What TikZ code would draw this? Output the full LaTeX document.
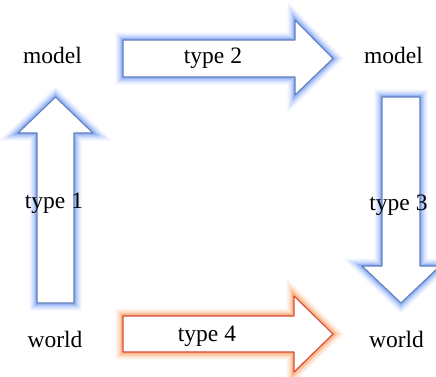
\documentclass[tikz,border=0pt]{standalone}
\usepackage{fontspec}
\setmainfont{Liberation Serif}
\definecolor{glowblue}{RGB}{120,160,245}
\definecolor{edgeblue}{RGB}{95,125,185}
\definecolor{gloworange}{RGB}{250,160,95}
\definecolor{edgered}{RGB}{210,75,60}
\tikzset{
  glowing/.style={
    line join=round,
    preaction={draw=#1, line width=15pt, opacity=0.12},
    preaction={draw=#1, line width=11pt, opacity=0.22},
    preaction={draw=#1, line width=7pt, opacity=0.35},
    preaction={draw=#1, line width=4pt, opacity=0.5},
    fill=white
  },
  bluearrow/.style={glowing=glowblue, draw=edgeblue, line width=1.1pt},
  redarrow/.style={glowing=gloworange, draw=edgered, line width=1.1pt},
  lbl/.style={anchor=base, inner sep=0pt, font=\fontsize{23.5}{28}\selectfont}
}
\begin{document}
\begin{tikzpicture}[x=1pt, y=-1pt]
  \useasboundingbox (0,0) rectangle (436,376);
  % type 2: model -> model
  \draw[bluearrow] (123,40) -- (295,40) -- (295,20) -- (333,58.5) -- (295,95)
    -- (295,77) -- (123,77) -- cycle;
  % type 4: world -> world
  \draw[redarrow] (123,316) -- (294,316) -- (294,296) -- (333,334) -- (294,372)
    -- (294,352) -- (123,352) -- cycle;
  % type 1: world -> model
  \draw[bluearrow] (37,303) -- (37,133) -- (18,133) -- (55.5,97) -- (93,133)
    -- (74,133) -- (74,303) -- cycle;
  % type 3: model -> world
  \draw[bluearrow] (382,97) -- (420,97) -- (420,266) -- (440,266) -- (401,303)
    -- (362,266) -- (382,266) -- cycle;
  % labels
  \node[lbl] (modelL) at (52.5,63) {model};
  \node[lbl] (modelR) at (393.5,63) {model};
  \node[lbl] (worldL) at (55,347) {world};
  \node[lbl] (worldR) at (396.5,347) {world};
  \node[lbl] (t1) at (54,208) {type 1};
  \node[lbl] (t2) at (213,63) {type 2};
  \node[lbl] (t3) at (398.5,210) {type 3};
  \node[lbl] (t4) at (207,341) {type 4};
\end{tikzpicture}
\end{document}
